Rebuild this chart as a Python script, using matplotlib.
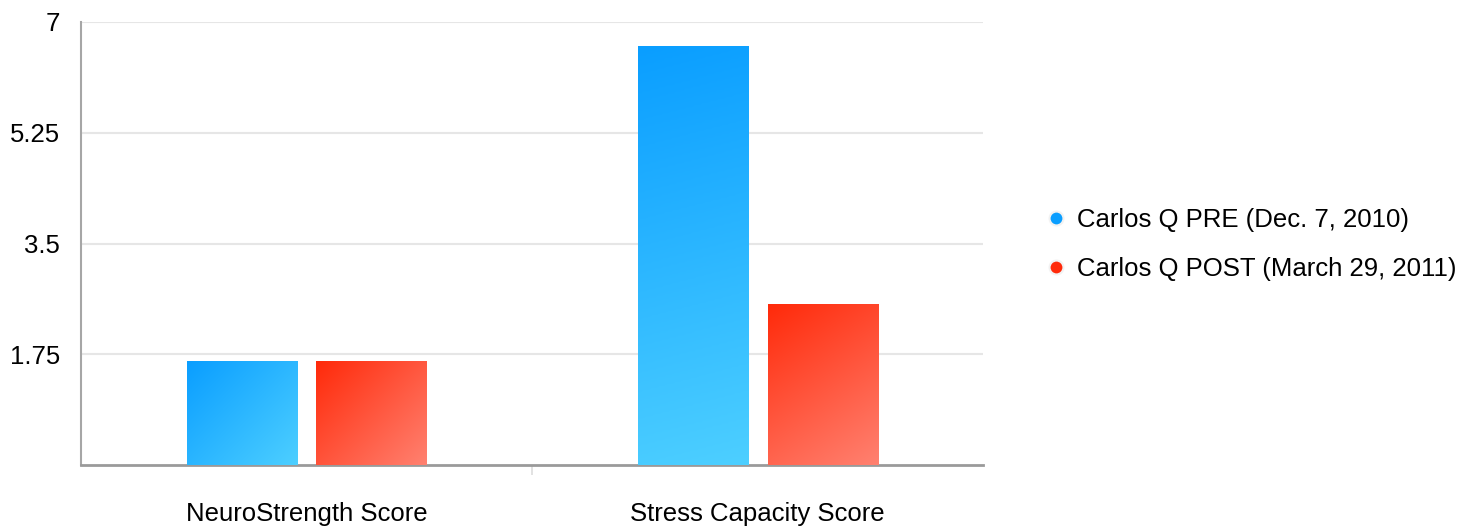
import matplotlib
matplotlib.use("Agg")
import matplotlib.pyplot as plt
import numpy as np
from matplotlib.lines import Line2D
from matplotlib.colors import LinearSegmentedColormap

plt.rcParams['font.family'] = ['Liberation Sans', 'DejaVu Sans']

categories = ["NeuroStrength Score", "Stress Capacity Score"]
series_labels = ["Carlos Q PRE (Dec. 7, 2010)", "Carlos Q POST (March 29, 2011)"]
pre_values = [1.64, 6.62]
post_values = [1.64, 2.54]
y_ticks = [1.75, 3.5, 5.25, 7]
y_tick_labels = ["1.75", "3.5", "5.25", "7"]

# gradient ends: top-left -> bottom-right
blue_grad = ["#0A9EFF", "#4DCFFF"]
red_grad = ["#FF2A0A", "#FF8170"]
dot_colors = ["#0A9EFF", "#FF2A0A"]

fig = plt.figure(figsize=(14.79, 5.27), dpi=100)
ax = fig.add_axes([0.0548, 0.1176, 0.6099, 0.8407])
ax.set_xlim(-0.5, 1.5)
ax.set_ylim(0, 7)

bar_w = 0.244
offset = 0.144
x = np.arange(len(categories))


def gradient_bar(ax, xc, h, w, cols):
    cmap = LinearSegmentedColormap.from_list("g", cols)
    x0 = xc - w / 2
    # size of the bar in pixels, so the gradient runs corner to corner
    p0 = ax.transData.transform((x0, 0))
    p1 = ax.transData.transform((x0 + w, h))
    W, H = abs(p1[0] - p0[0]), abs(p1[1] - p0[1])
    n = 200
    u = np.linspace(0, 1, n)[None, :]
    v = np.linspace(0, 1, n)[:, None]
    grad = (u * W ** 2 + v * H ** 2) / (W ** 2 + H ** 2)
    bar = ax.bar(xc, h, width=w, color="none", edgecolor="none", zorder=3)[0]
    im = ax.imshow(grad, cmap=cmap, extent=[x0, x0 + w, 0, h], origin="upper",
                   aspect="auto", zorder=3, interpolation="bilinear")
    im.set_clip_path(bar)


for i in range(len(categories)):
    gradient_bar(ax, x[i] - offset, pre_values[i], bar_w, blue_grad)
    gradient_bar(ax, x[i] + offset, post_values[i], bar_w, red_grad)

ax.set_xlim(-0.5, 1.5)
ax.set_ylim(0, 7)
ax.set_yticks(y_ticks)
ax.set_yticklabels(y_tick_labels)
ax.tick_params(axis="y", length=0, pad=15, labelsize=18.5)
ax.set_xticks(x)
ax.set_xticklabels(categories)
ax.tick_params(axis="x", length=0, pad=26.5, labelsize=18.5)
ax.set_xticks([0.5], minor=True)
ax.tick_params(axis="x", which="minor", length=7, color="#DDDDDD", width=1.2)

ax.grid(axis="y", color="#E6E6E6", linewidth=1.5, zorder=0)
ax.set_axisbelow(True)
for s in ["top", "right"]:
    ax.spines[s].set_visible(False)
ax.spines["left"].set_color("#A6A6A6")
ax.spines["left"].set_linewidth(1.5)
ax.spines["bottom"].set_color("#9A9A9A")
ax.spines["bottom"].set_linewidth(2)

handles = [Line2D([0], [0], marker="o", linestyle="none", markersize=10,
                  markerfacecolor=c, markeredgecolor="#F2F2F2", markeredgewidth=1.5)
           for c in dot_colors]
fig.legend(handles, series_labels, loc="center left", bbox_to_anchor=(0.690, 0.536),
           frameon=False, fontsize=18.5, labelspacing=0.95, handletextpad=0.3,
           handlelength=1.0)

fig.savefig("out.png", dpi=100)
